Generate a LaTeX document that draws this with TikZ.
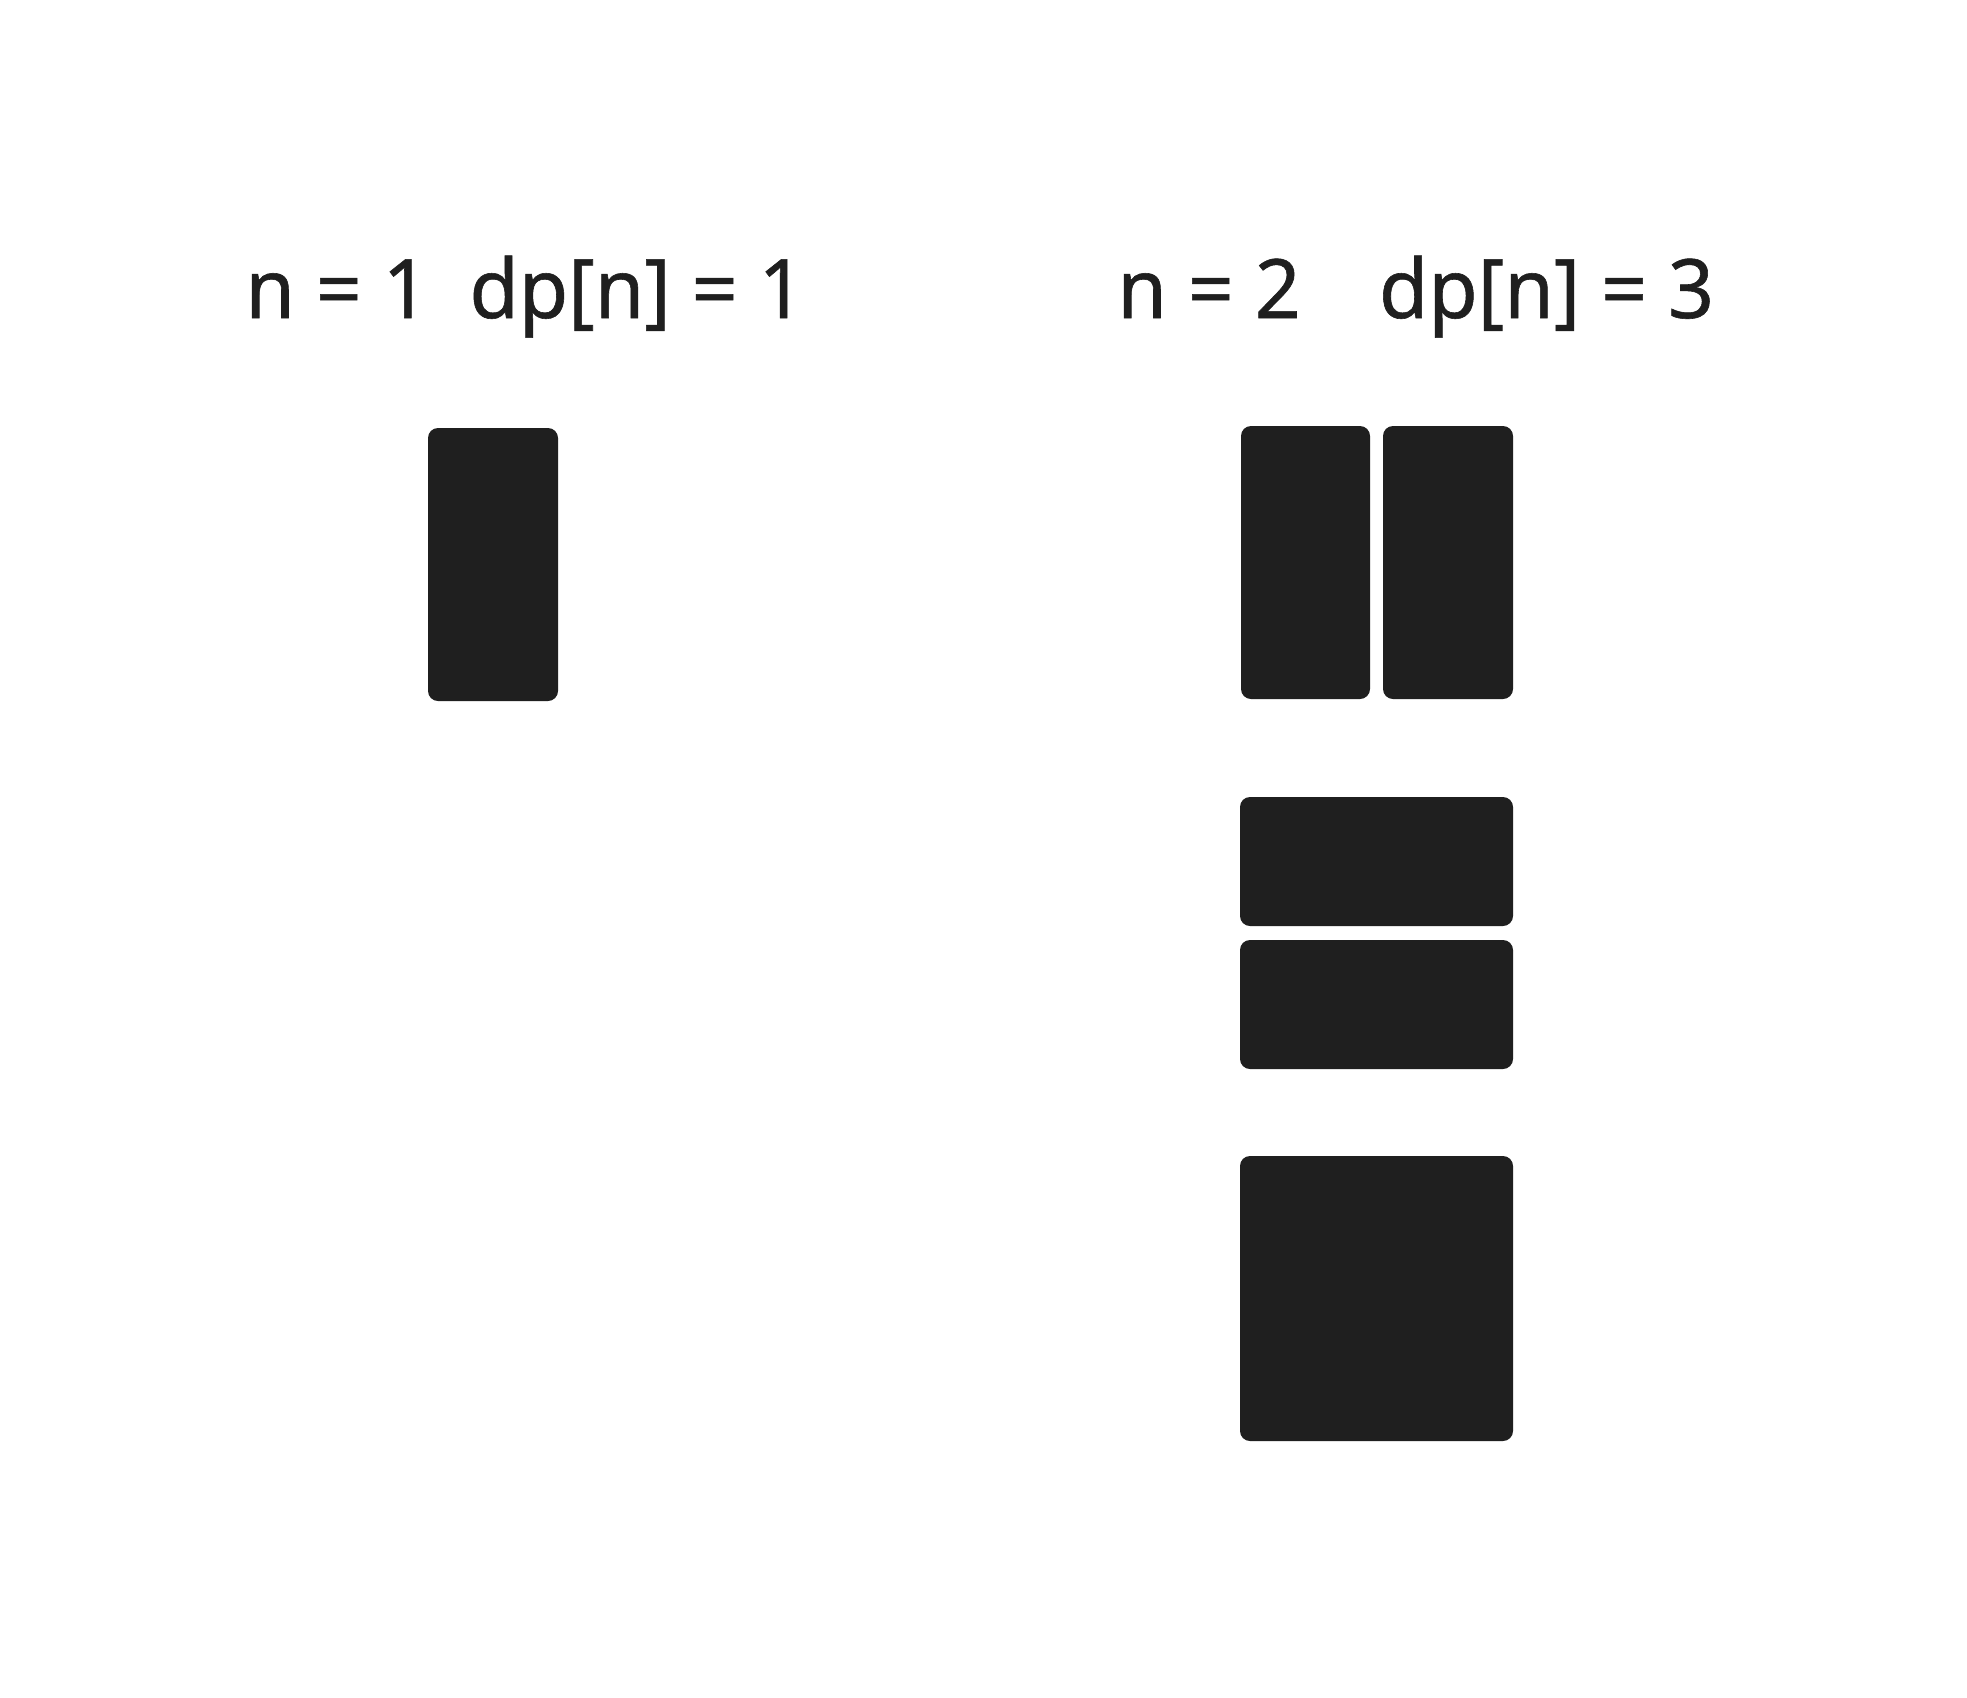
\documentclass[tikz,border=0pt]{standalone}
\usepackage{fontspec}
\newfontfamily\lblfont{Noto Sans}[FakeStretch=0.98, FakeBold=0.7]
\definecolor{ink}{HTML}{1F1F1F}
\tikzset{
  tile/.style={fill=ink, draw=none, rounded corners=10pt, inner sep=0pt, outer sep=0pt},
  lbl/.style={text=ink, inner sep=0pt, anchor=base, font=\lblfont\fontsize{82}{98}\selectfont}
}
\begin{document}
\begin{tikzpicture}[x=1pt,y=-1pt]
\useasboundingbox[fill=white] (0,0) rectangle (1967,1697);
% labels
\node[lbl] (t1a) at (337,318) {n = 1};
\node[lbl] (t1b) at (637,318) {dp[n] = 1};
\node[lbl] (t2a) at (1209,318) {n = 2};
\node[lbl] (t2b) at (1546.5,318) {dp[n] = 3};
% n = 1
\node[tile, minimum width=130pt, minimum height=273pt] (r1) at (493,564.5) {};
% n = 2
\node[tile, minimum width=129pt, minimum height=273pt] (r2a) at (1305.5,562.5) {};
\node[tile, minimum width=130pt, minimum height=273pt] (r2b) at (1448,562.5) {};
\node[tile, minimum width=273pt, minimum height=129pt] (r3a) at (1376.5,861.5) {};
\node[tile, minimum width=273pt, minimum height=129pt] (r3b) at (1376.5,1004.5) {};
\node[tile, minimum width=273pt, minimum height=285pt] (r4) at (1376.5,1298.5) {};
\end{tikzpicture}
\end{document}
